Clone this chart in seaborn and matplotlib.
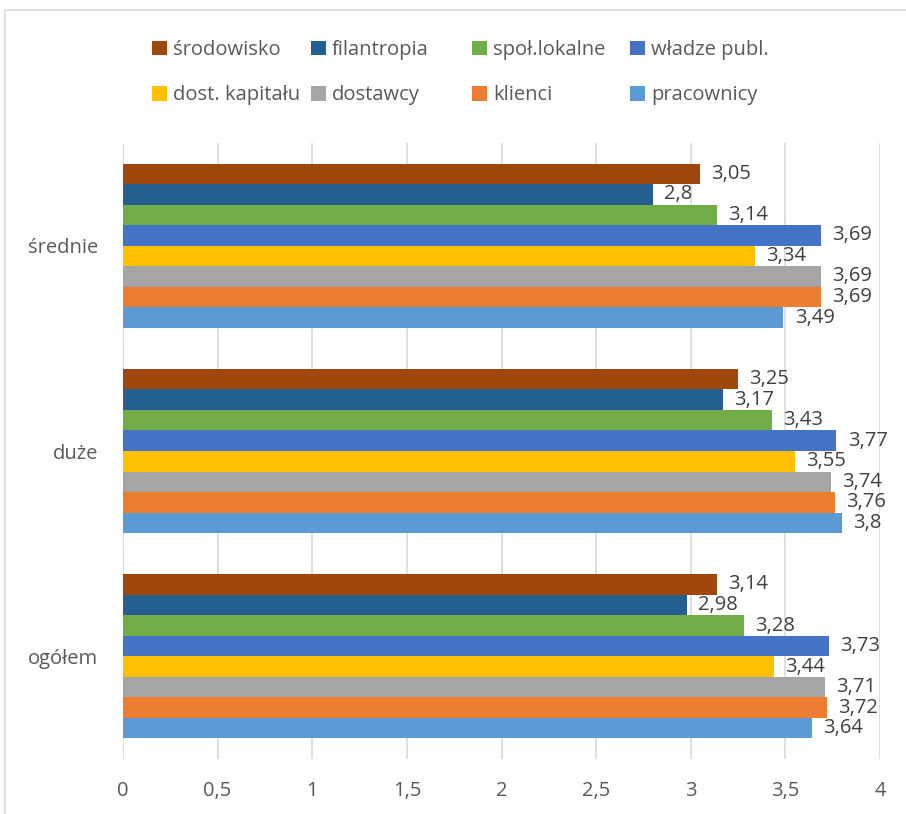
import matplotlib
matplotlib.use("Agg")
import matplotlib.pyplot as plt
from matplotlib.lines import Line2D
import seaborn as sns
import pandas as pd

categories = ["średnie", "duże", "ogółem"]
series = ["środowisko", "filantropia", "społ.lokalne", "władze publ.",
          "dost. kapitału", "dostawcy", "klienci", "pracownicy"]
srodowisko = [3.05, 3.25, 3.14]
filantropia = [2.8, 3.17, 2.98]
spol_lokalne = [3.14, 3.43, 3.28]
wladze_publ = [3.69, 3.77, 3.73]
dost_kapitalu = [3.34, 3.55, 3.44]
dostawcy = [3.69, 3.74, 3.71]
klienci = [3.69, 3.76, 3.72]
pracownicy = [3.49, 3.8, 3.64]
x_ticks = [0, 0.5, 1, 1.5, 2, 2.5, 3, 3.5, 4]
x_tick_labels = ["0", "0,5", "1", "1,5", "2", "2,5", "3", "3,5", "4"]

colors = ["#9E480E", "#255E91", "#70AD47", "#4472C4",
          "#FFC000", "#A5A5A5", "#ED7D31", "#5B9BD5"]

values = [srodowisko, filantropia, spol_lokalne, wladze_publ,
          dost_kapitalu, dostawcy, klienci, pracownicy]
rows = []
for s, vals in zip(series, values):
    for c, v in zip(categories, vals):
        rows.append({"kategoria": c, "seria": s, "wartosc": v})
df = pd.DataFrame(rows)

sns.set_theme(style="white")
plt.rcParams["font.family"] = ["Open Sans", "DejaVu Sans"]
text_color = "#595959"
fs = 14.5

fig = plt.figure(figsize=(9.06, 8.14), dpi=100)
ax = fig.add_axes([123 / 906, 1 - 759 / 814, (880 - 123) / 906, (759 - 143) / 814])

sns.barplot(data=df, y="kategoria", x="wartosc", hue="seria", order=categories,
            hue_order=series, palette=colors, orient="h", width=0.8,
            saturation=1, ax=ax, legend=True, linewidth=0)

for cont in ax.containers:
    labels = [f"{v:g}".replace(".", ",") for v in cont.datavalues]
    ax.bar_label(cont, labels=labels, padding=8, fontsize=fs, color="#404040")

ax.set_xlim(0, 4)
ax.set_xticks(x_ticks)
ax.set_xticklabels(x_tick_labels)
ax.tick_params(axis="x", length=0, pad=16, labelsize=fs, labelcolor=text_color)
ax.tick_params(axis="y", length=0, pad=18, labelsize=fs, labelcolor=text_color)
ax.set_xlabel("")
ax.set_ylabel("")
ax.grid(axis="x", color="#D9D9D9", linewidth=1.2)
ax.grid(axis="y", visible=False)
ax.set_axisbelow(True)
for sp in ax.spines.values():
    sp.set_visible(False)

handles, labs = ax.get_legend_handles_labels()
ax.get_legend().remove()
col_x = [152, 311, 472, 630]
for j, x0 in enumerate(col_x):
    idx = [j, j + 4]
    leg = fig.legend([handles[i] for i in idx], [labs[i] for i in idx],
                     ncol=1, loc="upper left",
                     bbox_to_anchor=(x0 / 906, 1 - 40 / 814),
                     frameon=False, fontsize=fs, handlelength=0.75, handleheight=0.75,
                     handletextpad=0.3, labelspacing=1.25,
                     borderaxespad=0, borderpad=0)
    for t in leg.get_texts():
        t.set_color(text_color)

fig.add_artist(Line2D([5 / 906, 1], [1 - 10 / 814, 1 - 10 / 814],
                      transform=fig.transFigure, color="#D9D9D9", linewidth=1.2))
fig.add_artist(Line2D([5 / 906, 5 / 906], [0, 1 - 10 / 814],
                      transform=fig.transFigure, color="#D9D9D9", linewidth=1.2))

fig.savefig("out.png", dpi=100)
